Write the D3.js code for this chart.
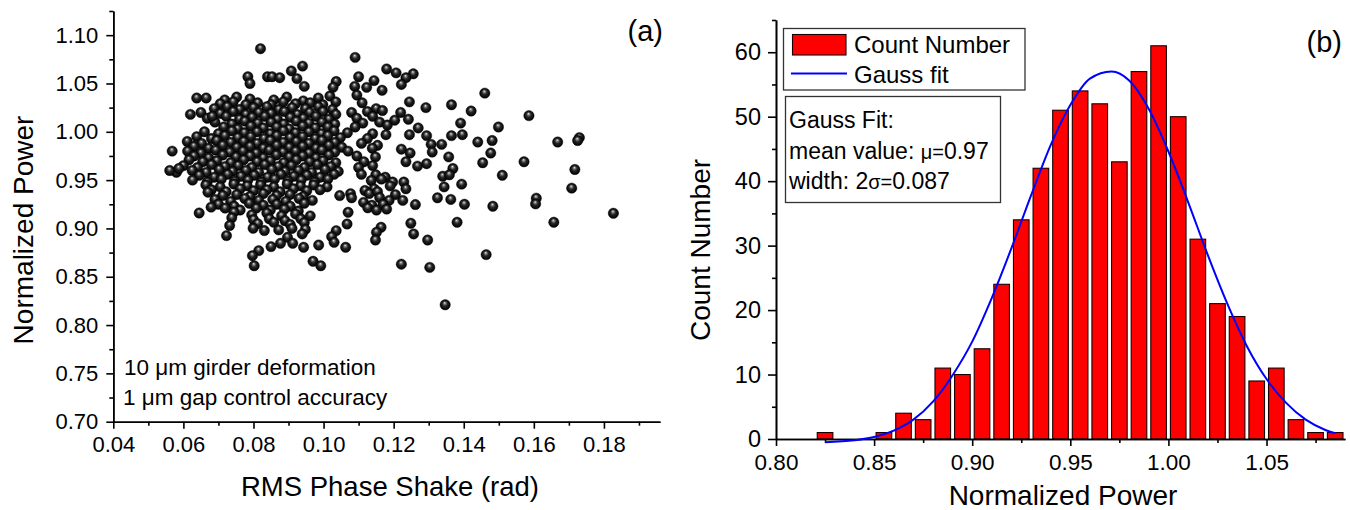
<!DOCTYPE html>
<html>
<head>
<meta charset="utf-8">
<script src="https://d3js.org/d3.v7.min.js"></script>
<style>
	body { margin: 0; background: #fff; }
	svg text { font-family: "Liberation Sans", Arial, sans-serif; fill: #000; }
	.axis path, .axis line { stroke: #000; stroke-width: 1.6; }
	.axis text { font-size: 22px; font-family: "Liberation Sans", Arial, sans-serif; }
</style>
</head>
<body>
<script>
(function () {
	"use strict";

	var w = 1350;
	var h = 510;

	// ---- panel (a) data: RMS phase shake vs normalized power ----
	var shakeTicks = [0.04, 0.06, 0.08, 0.10, 0.12, 0.14, 0.16, 0.18];
	var shakeMinor = [0.05, 0.07, 0.09, 0.11, 0.13, 0.15, 0.17, 0.19];
	var powerTicks = [0.70, 0.75, 0.80, 0.85, 0.90, 0.95, 1.00, 1.05, 1.10];
	var powerMinor = [0.725, 0.775, 0.825, 0.875, 0.925, 0.975, 1.025, 1.075, 1.125];

	var outlierPoints = [
		[0.082, 1.086], [0.109, 1.077], [0.094, 1.068], [0.0908, 1.063], [0.0924, 1.055], [0.0945, 1.047],
		[0.0784, 1.057], [0.079, 1.050], [0.084, 1.057], [0.0853, 1.057], [0.0875, 1.056], [0.118, 1.065],
		[0.1207, 1.061], [0.1256, 1.060], [0.1235, 1.056], [0.1222, 1.049], [0.1144, 1.053], [0.1123, 1.046],
		[0.110, 1.057], [0.1036, 1.052], [0.1027, 1.046], [0.1089, 1.047], [0.1095, 1.038], [0.1167, 1.043],
		[0.146, 1.040], [0.1365, 1.028], [0.1421, 1.0215], [0.1586, 1.0167], [0.1668, 0.9894], [0.173, 0.994],
		[0.1725, 0.991], [0.144, 0.9894], [0.1481, 0.991], [0.0638, 1.035], [0.0682, 1.016], [0.0620, 1.018],
		[0.0799, 0.9002], [0.0831, 0.8978], [0.0872, 0.8985], [0.0910, 0.900], [0.0948, 0.899], [0.1036, 0.8977],
		[0.1164, 0.9012], [0.0723, 0.8926], [0.0939, 0.8943], [0.1023, 0.8915], [0.1151, 0.896], [0.1257, 0.8943],
		[0.0897, 0.8908], [0.0912, 0.8846], [0.0877, 0.8846], [0.0850, 0.8812], [0.0943, 0.8805], [0.0986, 0.8828],
		[0.1030, 0.8856], [0.1063, 0.8805], [0.1148, 0.888], [0.1297, 0.888], [0.0815, 0.877], [0.0797, 0.8718],
		[0.0802, 0.8614], [0.0970, 0.866], [0.0992, 0.8614], [0.1222, 0.863], [0.1303, 0.8597], [0.1464, 0.8729],
		[0.1347, 0.821], [0.1827, 0.9157], [0.1657, 0.9064], [0.1381, 0.9064], [0.1249, 0.9054], [0.1708, 0.9417],
		[0.1607, 0.9313], [0.1605, 0.9254], [0.1483, 0.923], [0.1402, 0.925], [0.1717, 0.961], [0.1510, 0.955],
		[0.1572, 0.969], [0.1454, 0.968], [0.1477, 0.978], [0.1391, 1.009], [0.1499, 1.005], [0.1365, 0.996],
		[0.1396, 0.997], [0.1307, 0.987], [0.1337, 0.987], [0.1357, 0.974], [0.1369, 0.962], [0.1340, 0.954],
		[0.1359, 0.9555], [0.1394, 0.9458], [0.1344, 0.943], [0.1325, 0.9317], [0.1363, 0.930], [0.1262, 0.9247],
		[0.0561, 0.960], [0.0568, 0.980], [0.0587, 0.962], [0.0645, 0.916], [0.1245, 1.031], [0.1292, 1.025],
		[0.1242, 1.013], [0.1270, 1.004], [0.1245, 0.997], [0.1294, 0.996], [0.1222, 0.982], [0.1247, 0.978],
		[0.1310, 0.979], [0.1235, 0.969], [0.1294, 0.967], [0.1268, 0.9645], [0.1203, 1.012], [0.1220, 1.020]
	];

	var corePoints = [
		[0.0665, 1.035], [0.0718, 1.033], [0.0752, 1.036], [0.0790, 1.034], [0.0858, 1.033], [0.0895, 1.036],
		[0.0942, 1.032], [0.0985, 1.035], [0.1018, 1.037],
		[0.0705, 1.029], [0.0742, 1.031], [0.0778, 1.028], [0.0812, 1.030], [0.0850, 1.028], [0.0885, 1.031],
		[0.0920, 1.029], [0.0962, 1.030], [0.0998, 1.028], [0.1035, 1.031], [0.1110, 1.030],
		[0.0688, 1.024], [0.0725, 1.026], [0.0760, 1.023], [0.0800, 1.025], [0.0838, 1.026], [0.0872, 1.023],
		[0.0910, 1.025], [0.0948, 1.024], [0.0985, 1.026], [0.1025, 1.023], [0.1150, 1.024],
		[0.0650, 1.020], [0.0705, 1.019], [0.0742, 1.021], [0.0778, 1.018], [0.0815, 1.020], [0.0850, 1.019],
		[0.0888, 1.021], [0.0925, 1.018], [0.0960, 1.020], [0.0998, 1.021], [0.1035, 1.018], [0.1080, 1.020],
		[0.1125, 1.021], [0.1168, 1.022],
		[0.0668, 1.014], [0.0722, 1.016], [0.0760, 1.013], [0.0796, 1.015], [0.0832, 1.016], [0.0868, 1.013],
		[0.0905, 1.015], [0.0942, 1.014], [0.0978, 1.016], [0.1015, 1.013], [0.1095, 1.014],
		[0.1140, 1.016],
		[0.0690, 1.010], [0.0738, 1.008], [0.0775, 1.011], [0.0812, 1.009], [0.0850, 1.010], [0.0886, 1.008],
		[0.0922, 1.011], [0.0958, 1.009], [0.0995, 1.010], [0.1032, 1.008], [0.1112, 1.009],
		[0.1160, 1.010],
		[0.0715, 1.005], [0.0755, 1.003], [0.0792, 1.006], [0.0828, 1.004], [0.0866, 1.005], [0.0902, 1.003],
		[0.0940, 1.006], [0.0976, 1.004], [0.1012, 1.005], [0.1090, 1.005], [0.1182, 1.007],
		[0.0660, 1.000], [0.0700, 0.998], [0.0738, 1.001], [0.0774, 0.999], [0.0810, 1.000], [0.0848, 0.998],
		[0.0885, 1.001], [0.0920, 0.999], [0.0958, 1.000], [0.0994, 0.998], [0.1030, 1.001], [0.1068, 0.999],
		[0.1140, 0.998], [0.1178, 0.997],
		[0.0638, 0.995], [0.0680, 0.993], [0.0718, 0.996], [0.0755, 0.994], [0.0792, 0.995], [0.0830, 0.993],
		[0.0866, 0.996], [0.0904, 0.994], [0.0940, 0.995], [0.0976, 0.993], [0.1012, 0.996], [0.1048, 0.994],
		[0.1125, 0.993],
		[0.0611, 0.990], [0.0652, 0.988], [0.0695, 0.991], [0.0735, 0.989], [0.0772, 0.990], [0.0810, 0.988],
		[0.0848, 0.991], [0.0885, 0.989], [0.0922, 0.990], [0.0958, 0.988], [0.0995, 0.991], [0.1032, 0.989],
		[0.1108, 0.988], [0.1154, 0.986],
		[0.0630, 0.985], [0.0672, 0.983], [0.0712, 0.986], [0.0752, 0.984], [0.0790, 0.985], [0.0828, 0.983],
		[0.0866, 0.986], [0.0902, 0.984], [0.0940, 0.985], [0.0978, 0.983], [0.1015, 0.986], [0.1052, 0.984],
		[0.1139, 0.983],
		[0.0612, 0.980], [0.0650, 0.978], [0.0692, 0.981], [0.0732, 0.979], [0.0770, 0.980], [0.0808, 0.978],
		[0.0845, 0.981], [0.0884, 0.979], [0.0920, 0.980], [0.0958, 0.978], [0.0995, 0.981], [0.1032, 0.979],
		[0.1070, 0.980],
		[0.0630, 0.975], [0.0672, 0.973], [0.0712, 0.976], [0.0750, 0.974], [0.0790, 0.975], [0.0828, 0.973],
		[0.0865, 0.976], [0.0902, 0.974], [0.0940, 0.975], [0.0978, 0.973], [0.1015, 0.976],
		[0.1095, 0.975], [0.1148, 0.974],
		[0.0616, 0.971], [0.0655, 0.969], [0.0695, 0.970], [0.0735, 0.968], [0.0772, 0.971], [0.0810, 0.969],
		[0.0848, 0.970], [0.0886, 0.968], [0.0922, 0.971], [0.0960, 0.969], [0.0998, 0.970], [0.1035, 0.968],
		[0.1115, 0.969],
		[0.0600, 0.965], [0.0640, 0.963], [0.0680, 0.966], [0.0718, 0.964], [0.0756, 0.965], [0.0795, 0.963],
		[0.0832, 0.966], [0.0870, 0.964], [0.0908, 0.965], [0.0945, 0.963], [0.0982, 0.966], [0.1020, 0.964],
		[0.1100, 0.963], [0.1140, 0.965],
		[0.0580, 0.958], [0.0625, 0.960], [0.0665, 0.958], [0.0702, 0.961], [0.0740, 0.959], [0.0778, 0.960],
		[0.0815, 0.958], [0.0852, 0.961], [0.0890, 0.959], [0.0928, 0.960], [0.0966, 0.958], [0.1004, 0.961],
		[0.1042, 0.959],
		[0.0645, 0.955], [0.0688, 0.953], [0.0726, 0.956], [0.0764, 0.954], [0.0802, 0.955], [0.0840, 0.953],
		[0.0878, 0.956], [0.0915, 0.954], [0.0952, 0.955], [0.0990, 0.953], [0.1030, 0.956], [0.1108, 0.956],
		[0.1149, 0.9555], [0.1176, 0.953],
		[0.0626, 0.950], [0.0668, 0.948], [0.0708, 0.951], [0.0746, 0.949], [0.0784, 0.950], [0.0822, 0.948],
		[0.0860, 0.951], [0.0898, 0.949], [0.0936, 0.950], [0.0974, 0.948], [0.1012, 0.951], [0.1136, 0.9496],
		[0.1165, 0.951], [0.1197, 0.948], [0.1229, 0.948],
		[0.0664, 0.945], [0.0705, 0.943], [0.0744, 0.946], [0.0782, 0.944], [0.0820, 0.945], [0.0858, 0.943],
		[0.0896, 0.946], [0.0934, 0.944], [0.0972, 0.945], [0.1010, 0.943], [0.1118, 0.9393], [0.1144, 0.941],
		[0.1190, 0.944],
		[0.0680, 0.940], [0.0722, 0.938], [0.0762, 0.941], [0.0800, 0.939], [0.0838, 0.940], [0.0876, 0.938],
		[0.0914, 0.941], [0.0952, 0.939], [0.0990, 0.940], [0.1130, 0.936], [0.1154, 0.938], [0.1235, 0.941],
		[0.0670, 0.9375], [0.0712, 0.934], [0.0752, 0.935], [0.0790, 0.933], [0.0828, 0.936], [0.0866, 0.934],
		[0.0904, 0.935], [0.0942, 0.933], [0.1046, 0.934], [0.1077, 0.936], [0.1160, 0.932], [0.1205, 0.935],
		[0.0690, 0.930], [0.0735, 0.928], [0.0775, 0.931], [0.0815, 0.929], [0.0855, 0.930], [0.0892, 0.928],
		[0.0930, 0.931], [0.0968, 0.929], [0.1080, 0.9317], [0.1114, 0.927], [0.1187, 0.929], [0.1226, 0.929],
		[0.0700, 0.925], [0.0745, 0.923], [0.0788, 0.926], [0.0828, 0.924], [0.0866, 0.925], [0.0905, 0.923],
		[0.0945, 0.926], [0.1138, 0.924], [0.1170, 0.925],
		[0.0679, 0.922], [0.0719, 0.921], [0.0762, 0.919], [0.0808, 0.921], [0.0848, 0.919], [0.0888, 0.920],
		[0.0928, 0.918], [0.1126, 0.9213], [0.1151, 0.919], [0.1180, 0.920],
		[0.0744, 0.9168], [0.0795, 0.914], [0.0838, 0.916], [0.0880, 0.913], [0.0920, 0.915], [0.0962, 0.913],
		[0.1070, 0.9167],
		[0.0738, 0.911], [0.0800, 0.909], [0.0845, 0.910], [0.0890, 0.908], [0.0935, 0.910],
		[0.0732, 0.903], [0.0812, 0.905], [0.0858, 0.9064], [0.0905, 0.904], [0.0945, 0.906], [0.1067, 0.9046]
	];

	// ---- panel (b) data: histogram of normalized power ----
	var binLeft = [0.82, 0.83, 0.84, 0.85, 0.86, 0.87, 0.88, 0.89, 0.90, 0.91, 0.92, 0.93, 0.94,
		0.95, 0.96, 0.97, 0.98, 0.99, 1.00, 1.01, 1.02, 1.03, 1.04, 1.05, 1.06, 1.07, 1.08];
	var binCount = [1, 0, 0, 1, 4, 3, 11, 10, 14, 24, 34, 42, 51,
		54, 52, 43, 57, 61, 50, 31, 21, 19, 9, 11, 3, 1, 1];
	var binWidth = 0.01;

	// Gauss fit curve
	var fitX = [0.825, 0.84, 0.85, 0.86, 0.87, 0.88, 0.89, 0.90, 0.91, 0.92, 0.93, 0.94, 0.95, 0.96,
		0.971, 0.98, 0.99, 1.00, 1.01, 1.02, 1.03, 1.04, 1.05, 1.06, 1.07, 1.08, 1.085];
	var fitY = [-0.5, -0.2, 0.3, 1.3, 3.0, 5.8, 9.9, 15.1, 21.9, 29.6, 37.8, 45.6, 51.8, 55.9,
		57.0, 55.6, 51.2, 44.6, 36.8, 28.6, 21.0, 14.4, 9.3, 5.6, 3.0, 1.4, 0.9];

	var countTicks = [0, 10, 20, 30, 40, 50, 60];
	var countMinor = [5, 15, 25, 35, 45, 55, 65];
	var histTicks = [0.80, 0.85, 0.90, 0.95, 1.00, 1.05];
	var histMinor = [0.825, 0.875, 0.925, 0.975, 1.025, 1.075];

	var svg = d3.select("body")
		.append("svg")
		.attr("width", w)
		.attr("height", h);

	// shaded ball
	var grad = svg.append("defs").append("radialGradient")
		.attr("id", "ball")
		.attr("cx", "50%").attr("cy", "50%").attr("r", "50%")
		.attr("fx", "45%").attr("fy", "30%");
	grad.append("stop").attr("offset", "0%").attr("stop-color", "#f0f0f0");
	grad.append("stop").attr("offset", "18%").attr("stop-color", "#8c8c8c");
	grad.append("stop").attr("offset", "48%").attr("stop-color", "#262626");
	grad.append("stop").attr("offset", "100%").attr("stop-color", "#000");

	function drawAxes(g, xScale, yScale, opt) {
		var xAxisGen = d3.axisBottom(xScale)
			.tickValues(opt.xTicks)
			.tickFormat(d3.format(".2f"))
			.tickSize(opt.xTick)
			.tickPadding(8)
			.tickSizeOuter(0);
		var xMinorGen = d3.axisBottom(xScale)
			.tickValues(opt.xMinor)
			.tickFormat("")
			.tickSize(4)
			.tickSizeOuter(0);
		var yAxisGen = d3.axisLeft(yScale)
			.tickValues(opt.yTicks)
			.tickFormat(opt.yFormat)
			.tickSize(opt.yTick)
			.tickPadding(opt.yPad)
			.tickSizeOuter(0);
		var yMinorGen = d3.axisLeft(yScale)
			.tickValues(opt.yMinor)
			.tickFormat("")
			.tickSize(4)
			.tickSizeOuter(0);

		var y0 = yScale.range()[0];
		var x0 = xScale.range()[0];

		g.append("g").attr("class", "axis").attr("transform", "translate(0," + y0 + ")").call(xMinorGen);
		g.append("g").attr("class", "axis").attr("transform", "translate(0," + y0 + ")").call(xAxisGen)
			.selectAll("text").style("font-size", opt.xFont);
		g.append("g").attr("class", "axis").attr("transform", "translate(" + x0 + ",0)").call(yMinorGen);
		g.append("g").attr("class", "axis").attr("transform", "translate(" + x0 + ",0)").call(yAxisGen)
			.selectAll("text").style("font-size", opt.yFont);
	}

	// ================= panel (a) =================
	var xA = d3.scaleLinear().domain([0.04, 0.196]).range([113.3, 660]);
	var yA = d3.scaleLinear().domain([0.70, 1.125]).range([421.7, 11]);

	var gA = svg.append("g");

	gA.append("g").selectAll("circle")
		.data(corePoints.concat(outlierPoints))
		.enter().append("circle")
		.attr("cx", (d) => xA(d[0]))
		.attr("cy", (d) => yA(d[1]))
		.attr("r", 5.2)
		.attr("fill", "url(#ball)")
		.attr("stroke", "#000")
		.attr("stroke-width", 0.4);

	drawAxes(gA, xA, yA, {
		xTicks: shakeTicks, xMinor: shakeMinor, xTick: 7, xFont: "22px",
		yTicks: powerTicks, yMinor: powerMinor, yTick: 7, yPad: 8, yFont: "22px",
		yFormat: d3.format(".2f")
	});

	gA.append("text").attr("x", 124).attr("y", 375).style("font-size", "22.5px")
		.text("10 \u03bcm girder deformation");
	gA.append("text").attr("x", 123).attr("y", 405).style("font-size", "22.5px")
		.text("1 \u03bcm gap control accuracy");
	gA.append("text").attr("x", 663).attr("y", 41).attr("text-anchor", "end").style("font-size", "29px")
		.text("(a)");

	gA.append("text").attr("x", 390).attr("y", 496).attr("text-anchor", "middle").style("font-size", "27.5px")
		.text("RMS Phase Shake (rad)");
	gA.append("text").attr("transform", "translate(33,230) rotate(-90)").attr("text-anchor", "middle")
		.style("font-size", "28px").text("Normalized Power");

	// ================= panel (b) =================
	var xB = d3.scaleLinear().domain([0.80, 1.09]).range([776, 1345]);
	var yB = d3.scaleLinear().domain([0, 65]).range([439, 20]);

	var gB = svg.append("g");

	var bins = binLeft.map((b, i) => ({ x0: b, n: binCount[i] })).filter((d) => d.n > 0);

	gB.append("g").selectAll("rect")
		.data(bins)
		.enter().append("rect")
		.attr("x", (d) => xB(d.x0) + 2)
		.attr("width", (d) => xB(d.x0 + binWidth) - xB(d.x0) - 4)
		.attr("y", (d) => yB(d.n))
		.attr("height", (d) => yB(0) - yB(d.n))
		.attr("fill", "#ff0000")
		.attr("stroke", "#1a0000")
		.attr("stroke-width", 1.1);

	var lineFun = d3.line()
		.x((d) => xB(d[0]))
		.y((d) => yB(d[1]))
		.curve(d3.curveMonotoneX);

	drawAxes(gB, xB, yB, {
		xTicks: histTicks, xMinor: histMinor, xTick: 7, xFont: "22.5px",
		yTicks: countTicks, yMinor: countMinor, yTick: 8, yPad: 7, yFont: "23.5px",
		yFormat: d3.format("d")
	});

	gB.append("path")
		.attr("d", lineFun(fitX.map((x, i) => [x, fitY[i]])))
		.attr("fill", "none")
		.attr("stroke", "#0000ff")
		.attr("stroke-width", 2);

	// legend
	gB.append("rect").attr("x", 783.5).attr("y", 28.5).attr("width", 241.5).attr("height", 61.5)
		.attr("fill", "#fff").attr("stroke", "#333").attr("stroke-width", 1.3);
	gB.append("rect").attr("x", 792.5).attr("y", 34.5).attr("width", 53.5).attr("height", 20.5)
		.attr("fill", "#ff0000").attr("stroke", "#1a0000").attr("stroke-width", 1.1);
	gB.append("line").attr("x1", 791).attr("x2", 847).attr("y1", 73.5).attr("y2", 73.5)
		.attr("stroke", "#0000ff").attr("stroke-width", 2);
	gB.append("text").attr("x", 854).attr("y", 52.5).style("font-size", "24px").text("Count Number");
	gB.append("text").attr("x", 854).attr("y", 82.5).style("font-size", "24px").text("Gauss fit");

	// fit result box
	gB.append("rect").attr("x", 785.5).attr("y", 96.5).attr("width", 215).attr("height", 106)
		.attr("fill", "#fff").attr("stroke", "#333").attr("stroke-width", 1.3);
	gB.append("text").attr("x", 789).attr("y", 127.5).style("font-size", "23px").text("Gauss Fit:");
	var t2 = gB.append("text").attr("x", 789).attr("y", 158.5).style("font-size", "23px");
	t2.append("tspan").text("mean value: ");
	t2.append("tspan").style("font-size", "20px").text("\u03bc=");
	t2.append("tspan").text("0.97");
	var t3 = gB.append("text").attr("x", 789).attr("y", 188.5).style("font-size", "23px");
	t3.append("tspan").text("width: 2");
	t3.append("tspan").style("font-size", "20px").text("\u03c3=");
	t3.append("tspan").text("0.087");

	gB.append("text").attr("x", 1342).attr("y", 52).attr("text-anchor", "end").style("font-size", "29px")
		.text("(b)");

	gB.append("text").attr("x", 1063).attr("y", 505).attr("text-anchor", "middle").style("font-size", "28px")
		.text("Normalized Power");
	gB.append("text").attr("transform", "translate(710,250) rotate(-90)").attr("text-anchor", "middle")
		.style("font-size", "28px").text("Count Number");
})();
</script>
</body>
</html>
